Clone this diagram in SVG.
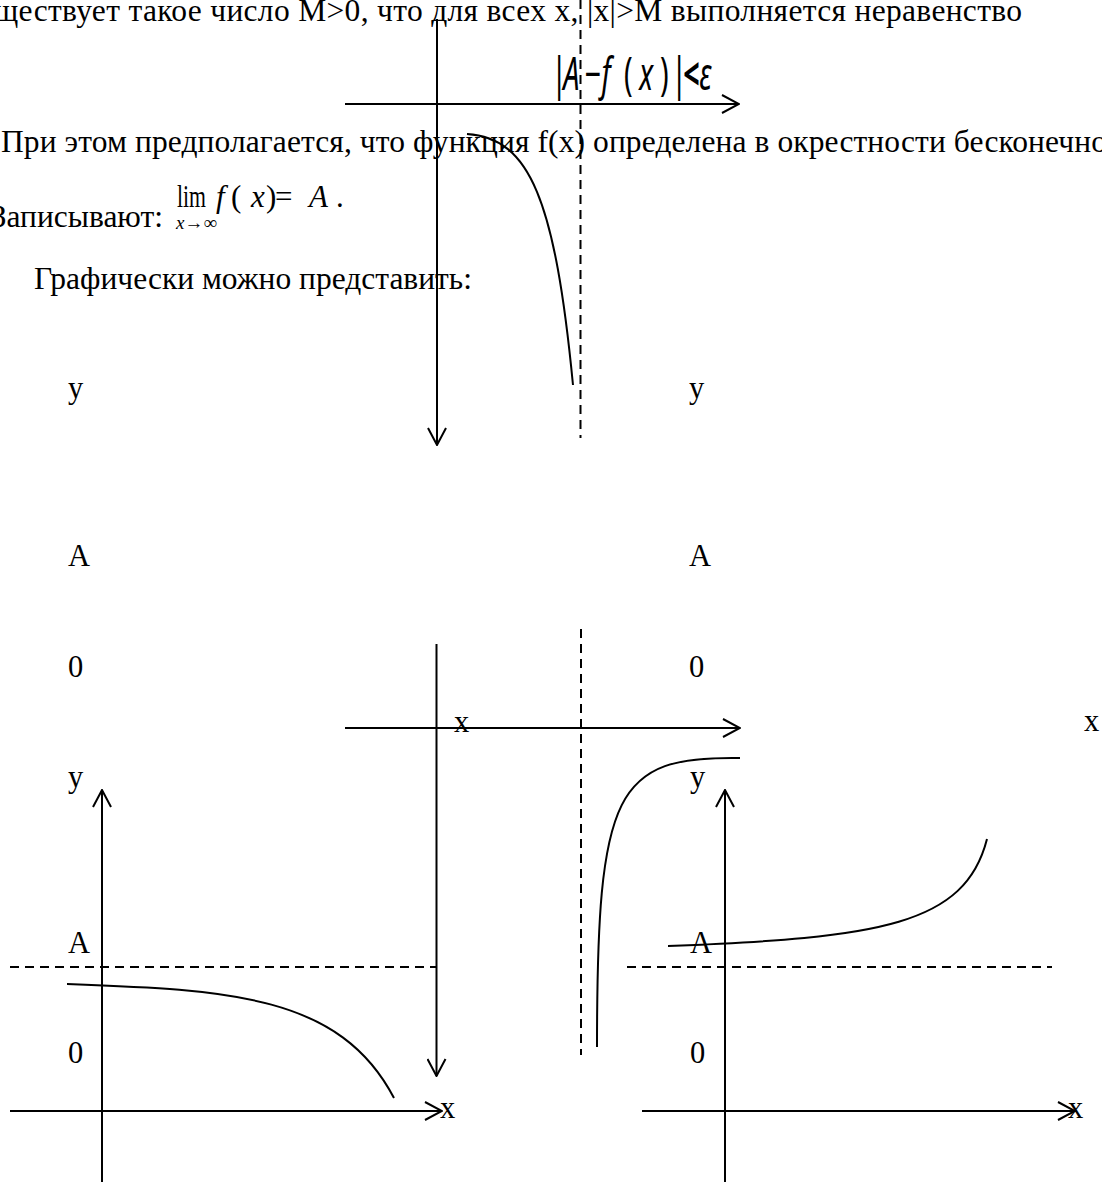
<svg xmlns="http://www.w3.org/2000/svg" width="1102" height="1182" viewBox="0 0 1102 1182">
<style>
  .t { font-family: "Liberation Serif", "Times New Roman", serif; font-size: 30.5px; fill: #000; }
  .b { font-family: "Liberation Serif", "Times New Roman", serif; font-size: 31.5px; fill: #000; }
  .m { font-family: "Liberation Serif", "Times New Roman", serif; font-size: 31px; fill: #000; }
  .i { font-style: italic; }
  .ax { stroke: #000; stroke-width: 2; fill: none; }
  .cv { stroke: #000; stroke-width: 2; fill: none; }
  .ds { stroke: #000; stroke-width: 2; fill: none; stroke-dasharray: 9 6; }
</style>
<defs>
  <marker id="arr" viewBox="0 0 20 20" refX="19" refY="10" markerWidth="20" markerHeight="20" markerUnits="userSpaceOnUse" orient="auto">
    <path d="M2,1 L19,10 L2,19" fill="none" stroke="#000" stroke-width="2"/>
  </marker>
</defs>
<rect width="1102" height="1182" fill="#fff"/>

<g id="text-body">
  <text class="b" x="-6" y="21" textLength="1028" lengthAdjust="spacing">ществует такое число M&gt;0, что для всех x,  |x|&gt;M выполняется неравенство</text>
  <text class="b" x="1" y="152" textLength="1106" lengthAdjust="spacing">При этом предполагается, что функция f(x) определена в окрестности бесконечно</text>
  <text class="b" x="163" y="227" text-anchor="end">Записывают:</text>
  <text class="b" x="472" y="289" text-anchor="end">Графически можно представить:</text>
</g>

<g id="formula-ineq">
  <text transform="translate(556,90) scale(0.8,1.25)" y="0" style="font-family:'Noto Sans','Liberation Sans',sans-serif;font-size:36px"><tspan x="-6">|</tspan><tspan x="9" font-style="italic">A</tspan><tspan x="36">−</tspan><tspan x="57" font-style="italic">f</tspan><tspan x="85">(</tspan><tspan x="104" font-style="italic">x</tspan><tspan x="130">)</tspan><tspan x="144">|</tspan><tspan x="159" font-weight="bold">&lt;</tspan><tspan x="179" font-style="italic">ε</tspan></text>
</g>

<g id="formula-lim">
  <text class="m" x="177" y="207" textLength="29" lengthAdjust="spacingAndGlyphs">lim</text>
  <text class="m i" x="216" y="207">f</text>
  <text class="m" x="231" y="207">(</text>
  <text class="m i" x="251" y="207">x</text>
  <text class="m" x="266" y="207">)</text>
  <text class="m" x="275" y="207">=</text>
  <text class="m i" x="309" y="207">A</text>
  <text class="m" x="336" y="207">.</text>
  <text x="176" y="229" style="font-family:'Liberation Serif',serif;font-size:19px"><tspan font-style="italic">x</tspan>→∞</text>
</g>

<g id="graph-upper">
  <line class="ax" x1="345" y1="104" x2="739" y2="104" marker-end="url(#arr)"/>
  <line class="ax" x1="437" y1="19" x2="437" y2="445" marker-end="url(#arr)"/>
  <line class="ds" x1="580.5" y1="0" x2="580.5" y2="438"/>
  <path class="cv" d="M467,134 C530,138 555,200 573,385"/>
</g>

<g id="labels-side">
  <text class="t" x="68" y="398">y</text>
  <text class="t" x="68" y="566">A</text>
  <text class="t" x="68" y="677">0</text>
  <text class="t" x="689" y="398">y</text>
  <text class="t" x="689" y="566">A</text>
  <text class="t" x="689" y="677">0</text>
  <text class="t" x="1084" y="731">x</text>
</g>

<g id="graph-middle">
  <line class="ax" x1="345" y1="728" x2="740" y2="728" marker-end="url(#arr)"/>
  <line class="ax" x1="436.5" y1="644" x2="436.5" y2="1076" marker-end="url(#arr)"/>
  <line class="ds" x1="581" y1="629" x2="581" y2="1055"/>
  <path class="cv" d="M740,758 C615,756 597,790 597,1047"/>
  <text class="t" x="454" y="732">x</text>
</g>

<g id="graph-bottom-left">
  <line class="ax" x1="102" y1="1182" x2="102" y2="790" marker-end="url(#arr)"/>
  <line class="ax" x1="10" y1="1111" x2="442" y2="1111" marker-end="url(#arr)"/>
  <line class="ds" x1="10" y1="967" x2="437" y2="967"/>
  <path class="cv" d="M67,984 C230,990 340,995 394,1098"/>
  <text class="t" x="68" y="787">y</text>
  <text class="t" x="68" y="953">A</text>
  <text class="t" x="68" y="1063">0</text>
  <text class="t" x="440" y="1118">x</text>
</g>

<g id="graph-bottom-right">
  <line class="ax" x1="725" y1="1182" x2="725" y2="790" marker-end="url(#arr)"/>
  <line class="ax" x1="642" y1="1111" x2="1075" y2="1111" marker-end="url(#arr)"/>
  <line class="ds" x1="627" y1="967" x2="1052" y2="967"/>
  <path class="cv" d="M668,946 C880,938 965,925 987,839"/>
  <text class="t" x="690" y="787">y</text>
  <text class="t" x="690" y="953">A</text>
  <text class="t" x="690" y="1063">0</text>
  <text class="t" x="1068" y="1118">x</text>
</g>
</svg>
